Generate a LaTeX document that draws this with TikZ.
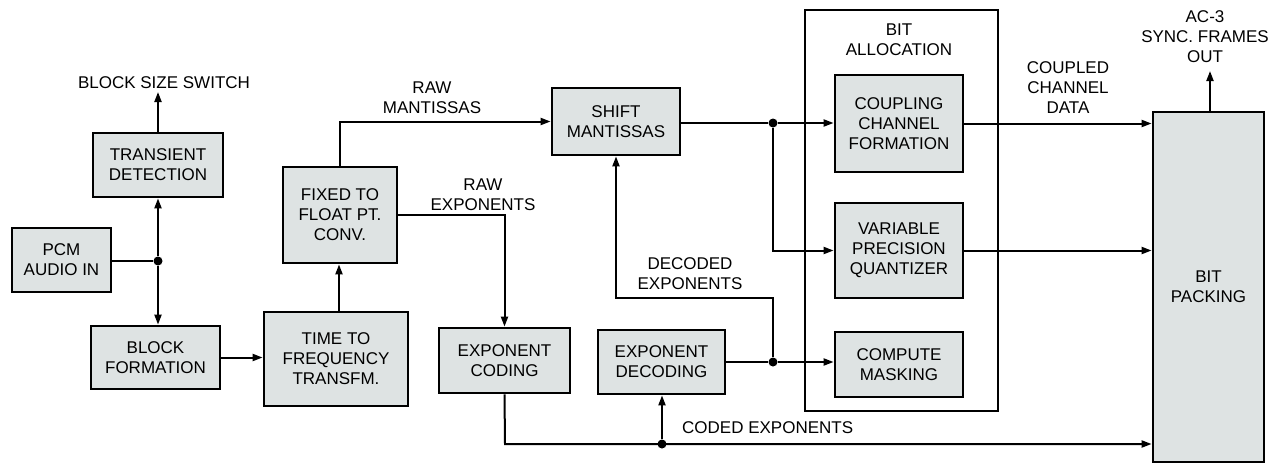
\documentclass[tikz,border=0pt]{standalone}
\usepackage{fontspec}
\setmainfont{Liberation Sans}
\usepackage{tikz}
\usetikzlibrary{arrows.meta,positioning}

\definecolor{boxfill}{RGB}{222,227,227}

\begin{document}
\begin{tikzpicture}[x=1pt, y=-1pt,
  font=\fontsize{17}{20}\selectfont,
  blk/.style={draw, line width=2.8pt, fill=boxfill, align=center, inner sep=0pt},
  arr/.style={line width=2pt, -{Triangle[length=10pt,width=7pt]}},
  wire/.style={line width=2pt},
  lbl/.style={align=center, inner sep=0pt},
  jdot/.style={circle, fill=black, inner sep=0pt, minimum size=9pt}]

\useasboundingbox (0,0) rectangle (1283,464);

% ---- bit allocation frame --------------------------------------------------
\node[draw, line width=2.3pt, minimum width=193pt, minimum height=401pt, inner sep=0pt]
  (alloc) at (901.5,210.5) {};
\node[lbl] (alloclbl) at (899,40) {BIT\\ALLOCATION};

% ---- blocks ----------------------------------------------------------------
\node[blk, minimum width=130pt, minimum height=64pt] (trans)  at (158,165)     {TRANSIENT\\DETECTION};
\node[blk, minimum width=99pt,  minimum height=64pt] (pcm)    at (61.5,260)    {PCM\\AUDIO IN};
\node[blk, minimum width=129pt, minimum height=63pt] (blockf) at (155.5,357.5) {BLOCK\\FORMATION};
\node[blk, minimum width=144pt, minimum height=94pt] (time)   at (336,359)     {TIME TO\\FREQUENCY\\TRANSFM.};
\node[blk, minimum width=114pt, minimum height=96pt] (fixed)  at (340,215)     {FIXED TO\\FLOAT PT.\\CONV.};
\node[blk, minimum width=128pt, minimum height=67pt] (shift)  at (616,121.5)   {SHIFT\\MANTISSAS};
\node[blk, minimum width=131pt, minimum height=65pt] (expc)   at (504.5,360.5) {EXPONENT\\CODING};
\node[blk, minimum width=127pt, minimum height=64pt] (expd)   at (661.5,362)   {EXPONENT\\DECODING};
\node[blk, minimum width=128pt, minimum height=97pt] (coup)   at (899,123.5)   {COUPLING\\CHANNEL\\FORMATION};
\node[blk, minimum width=128pt, minimum height=95pt] (varq)   at (899,250.5)   {VARIABLE\\PRECISION\\QUANTIZER};
\node[blk, minimum width=128pt, minimum height=65pt] (cmask)  at (899,364.5)   {COMPUTE\\MASKING};
\node[blk, minimum width=111pt, minimum height=350pt] (bitpack) at (1208.5,287) {BIT\\PACKING};

% ---- junctions and free ends -----------------------------------------------
\node[jdot] (jin)  at (158,261) {};
\node[jdot] (jman) at (773,123) {};
\node[jdot] (jdec) at (773,362) {};
\node[jdot] (jcod) at (662,444) {};
\coordinate (bss)    at (158,92);
\coordinate (cstart) at (505,444);
\coordinate (decturn) at (616,298);
\coordinate (ac3)    at (1210,71);

% ---- connectors ------------------------------------------------------------
\draw[arr]  (trans.north) -- (bss);
\draw[wire] (pcm.east |- jin) -- (jin);
\draw[arr]  (jin) -- (trans.south);
\draw[arr]  (jin) -- (jin |- blockf.north);
\draw[arr]  (blockf.east) -- (blockf.east -| time.west);
\draw[arr]  (time.north -| 339,0) -- (339,0 |- fixed.south);
\draw[arr]  (fixed.north) |- (shift.west);
\draw[arr]  (fixed.east) -| (expc.north);
\draw[wire] (shift.east |- jman) -- (jman);
\draw[arr]  (jman) -- (jman -| coup.west);
\draw[arr]  (jman) |- (varq.west);
\draw[wire] (expd.east |- jdec) -- (jdec);
\draw[arr]  (jdec) -- (jdec -| cmask.west);
\draw[arr]  (jdec) |- (decturn) -- (shift.south);
\draw[arr]  (expc.south) -- (cstart) -- (cstart -| bitpack.west);
\draw[arr]  (jcod) -- (jcod |- expd.south);
\draw[arr]  (coup.east) -- (coup.east -| bitpack.west);
\draw[arr]  (varq.east) -- (varq.east -| bitpack.west);
\draw[arr]  (bitpack.north -| ac3) -- (ac3);

% ---- labels ----------------------------------------------------------------
\node[lbl, anchor=south] (bsslbl) at (164,89) {BLOCK SIZE SWITCH};
\node[lbl] (rawman) at (432,97.5)  {RAW\\MANTISSAS};
\node[lbl] (rawexp) at (483,195)   {RAW\\EXPONENTS};
\node[lbl] (decexp) at (690,273.5) {DECODED\\EXPONENTS};
\node[lbl, anchor=west] (codexp) at (682,428) {CODED EXPONENTS};
\node[lbl] (ccdata) at (1068,87.5) {COUPLED\\CHANNEL\\DATA};
\node[lbl] (ac3lbl) at (1205,37)   {AC-3\\SYNC. FRAMES\\OUT};

\end{tikzpicture}
\end{document}
